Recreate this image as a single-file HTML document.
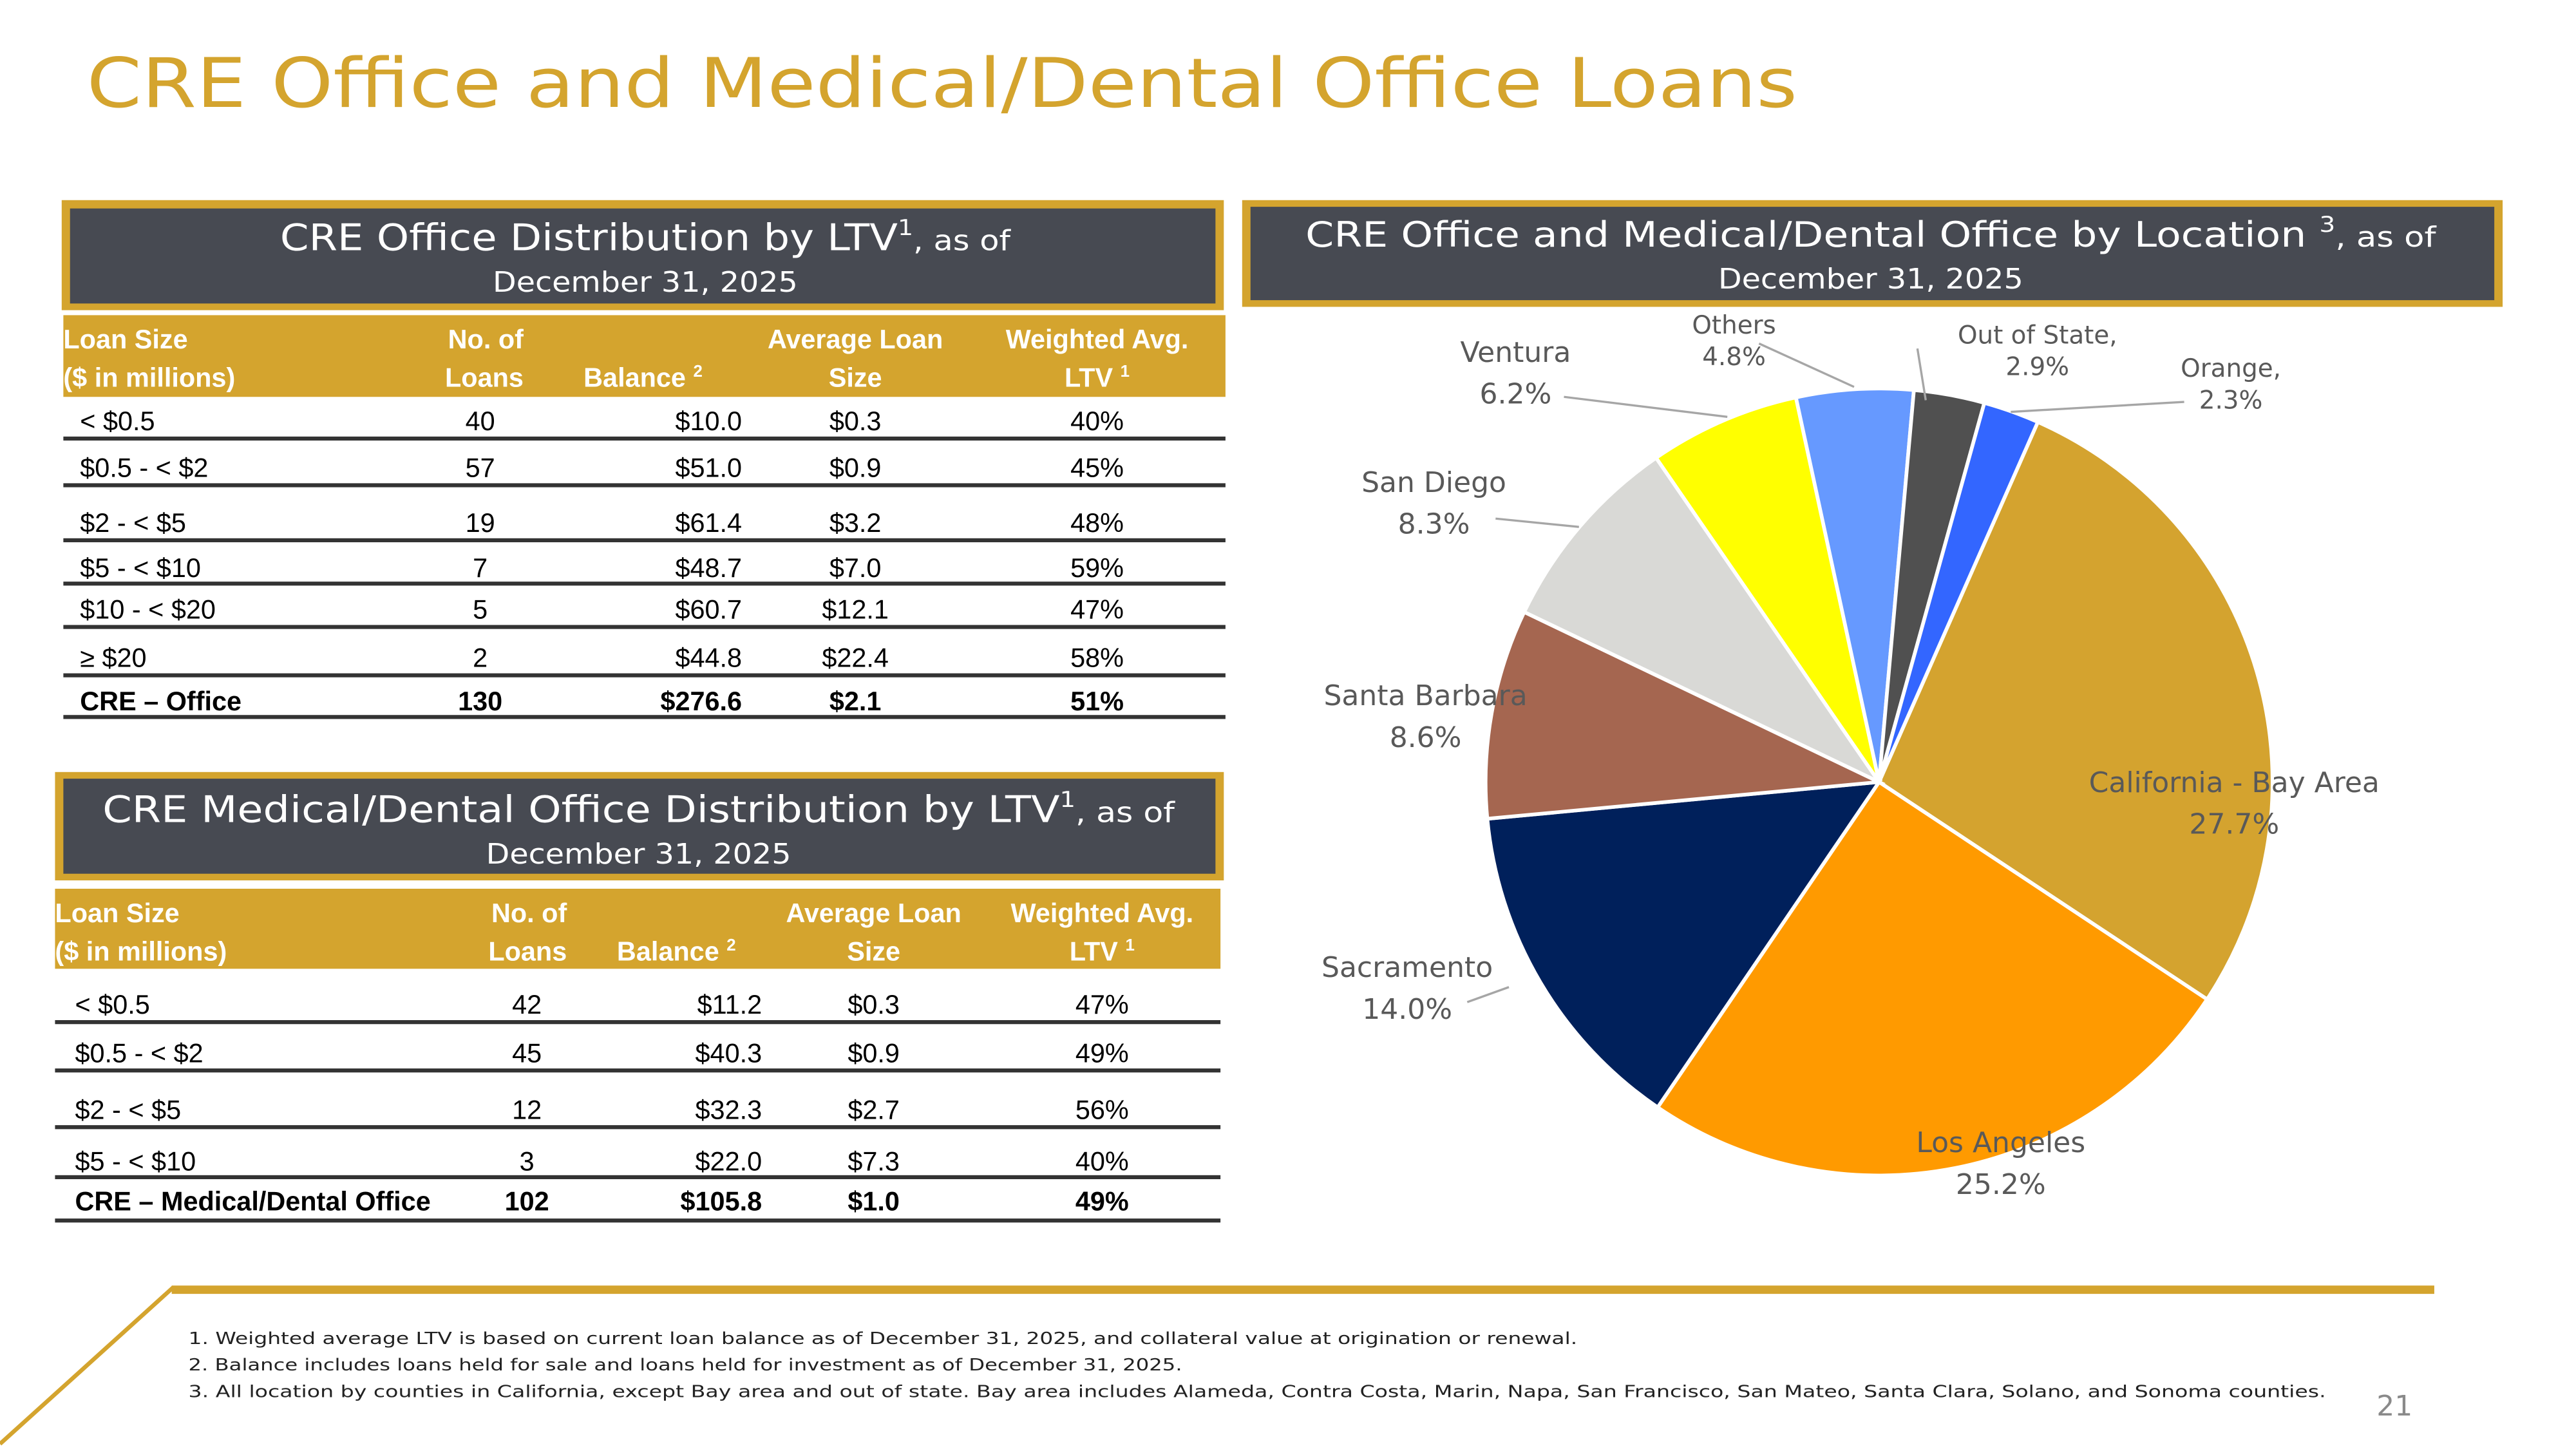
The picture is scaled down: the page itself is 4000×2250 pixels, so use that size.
<!DOCTYPE html>
<html><head><meta charset="utf-8"><style>
html,body{margin:0;padding:0;background:#fff;}
svg{display:block;}
.cg{font-family:"DejaVu Sans","Liberation Sans",sans-serif;}
.tb{font-family:"Liberation Sans Narrow","Liberation Sans",sans-serif;}
</style></head><body>
<svg id="slide" width="4000" height="2250" viewBox="0 0 1545 869" xmlns="http://www.w3.org/2000/svg">
<text class="cg" x="52" y="64" font-size="41" fill="#D4A42E" textLength="1026" lengthAdjust="spacingAndGlyphs">CRE Office and Medical/Dental Office Loans</text>

<!-- Box 1 -->
<g>
<rect x="37" y="120" width="697" height="66" fill="#D4A42E"/>
<rect x="42" y="125" width="687" height="57" fill="#474A52"/>
<text class="cg" x="387" y="150" font-size="22" fill="#fff" text-anchor="middle" textLength="438" lengthAdjust="spacingAndGlyphs">CRE Office Distribution by LTV<tspan font-size="13" dy="-9">1</tspan><tspan dy="9" font-size="17">, as of</tspan></text>
<text class="cg" x="387" y="175" font-size="17" fill="#fff" text-anchor="middle" textLength="183" lengthAdjust="spacingAndGlyphs">December 31, 2025</text>
</g>
<g id="t1"></g>

<!-- Box 2 -->
<g>
<rect x="33" y="463" width="701" height="65" fill="#D4A42E"/>
<rect x="38" y="467" width="691" height="57" fill="#474A52"/>
<text class="cg" x="383" y="493" font-size="22" fill="#fff" text-anchor="middle" textLength="643" lengthAdjust="spacingAndGlyphs">CRE Medical/Dental Office Distribution by LTV<tspan font-size="13" dy="-9">1</tspan><tspan dy="9" font-size="17">, as of</tspan></text>
<text class="cg" x="383" y="518" font-size="17" fill="#fff" text-anchor="middle" textLength="183" lengthAdjust="spacingAndGlyphs">December 31, 2025</text>
</g>
<g id="t2"></g>

<!-- Box 3 -->
<g>
<rect x="745" y="120" width="756" height="64" fill="#D4A42E"/>
<rect x="750" y="124" width="746" height="56" fill="#474A52"/>
<text class="cg" x="1122" y="148" font-size="21" fill="#fff" text-anchor="middle" textLength="678" lengthAdjust="spacingAndGlyphs">CRE Office and Medical/Dental Office by Location <tspan font-size="13" dy="-9">3</tspan><tspan dy="9" font-size="17">, as of</tspan></text>
<text class="cg" x="1122" y="173" font-size="17" fill="#fff" text-anchor="middle" textLength="183" lengthAdjust="spacingAndGlyphs">December 31, 2025</text>
</g>
<g id="pie"></g>
<g id="pielabels"></g>

<!-- Footer -->
<g>
<rect x="103" y="771" width="1357" height="5" fill="#D4A42E"/>
<line x1="104" y1="772" x2="0" y2="866" stroke="#D4A42E" stroke-width="2.5"/>
</g>
<g class="cg" font-size="10" fill="#222">
<text x="113" y="806" textLength="833" lengthAdjust="spacingAndGlyphs">1. Weighted average LTV is based on current loan balance as of December 31, 2025, and collateral value at origination or renewal.</text>
<text x="113" y="822" textLength="596" lengthAdjust="spacingAndGlyphs">2. Balance includes loans held for sale and loans held for investment as of December 31, 2025.</text>
<text x="113" y="838" textLength="1282" lengthAdjust="spacingAndGlyphs">3. All location by counties in California, except Bay area and out of state. Bay area includes Alameda, Contra Costa, Marin, Napa, San Francisco, San Mateo, Santa Clara, Solano, and Sonoma counties.</text>
</g>
<text class="cg" x="1447" y="849" font-size="17" fill="#8a8a8a" text-anchor="end">21</text>
</svg>
<script>
const NS="http://www.w3.org/2000/svg";
// Pie data
const pieCategories=["California - Bay Area","Los Angeles","Sacramento","Santa Barbara","San Diego","Ventura","Others","Out of State","Orange"];
const pieValues=[27.7,25.2,14.0,8.6,8.3,6.2,4.8,2.9,2.3];
const pieLabelText=["California - Bay Area","Los Angeles","Sacramento","Santa Barbara","San Diego","Ventura","Others","Out of State,","Orange,"];
const pieColors=["#D4A32F","#FF9A00","#00205B","#A56650","#D9D9D6","#FFFF00","#6699FF","#505050","#3366FF"];
// Table data
const t1Sizes=["< $0.5","$0.5 - < $2","$2 - < $5","$5 - < $10","$10 - < $20","≥ $20","CRE – Office"];
const t1Loans=["40","57","19","7","5","2","130"];
const t1Balance=["$10.0","$51.0","$61.4","$48.7","$60.7","$44.8","$276.6"];
const t1Avg=["$0.3","$0.9","$3.2","$7.0","$12.1","$22.4","$2.1"];
const t1Ltv=["40%","45%","48%","59%","47%","58%","51%"];
const t2Sizes=["< $0.5","$0.5 - < $2","$2 - < $5","$5 - < $10","CRE – Medical/Dental Office"];
const t2Loans=["42","45","12","3","102"];
const t2Balance=["$11.2","$40.3","$32.3","$22.0","$105.8"];
const t2Avg=["$0.3","$0.9","$2.7","$7.3","$1.0"];
const t2Ltv=["47%","49%","56%","40%","49%"];

function mk(tag,attrs,parent,txt){const e=document.createElementNS(NS,tag);for(const k in attrs)e.setAttribute(k,attrs[k]);if(txt!==undefined)e.textContent=txt;parent.appendChild(e);return e;}

function table(g,cfg,sizes,loans,bal,avg,ltv){
  const hdr=mk('rect',{x:cfg.x,y:cfg.hy,width:cfg.w,height:cfg.hh,fill:'#D4A42E'},g);
  
  
  const H=(x,y,t,a,sup)=>{const e=mk('text',{x:x,y:y,'class':'tb','font-size':16,'font-weight':'bold',fill:'#fff','text-anchor':a},g,t);
    if(sup){const s=mk('tspan',{'font-size':10,dy:-6},e,sup);}
    
    };
  const y1=cfg.hy+20,y2=cfg.hy+43;
  H(cfg.x,y1,'Loan Size','start');H(cfg.x,y2,'($ in millions)','start');
  H(cfg.cL,y1,'No. of','end');H(cfg.cL,y2,'Loans','end');
  H(cfg.cBs,y2,'Balance ','start','2');
  H(cfg.cA,y1,'Average Loan','middle');H(cfg.cA,y2,'Size','middle');
  H(cfg.cW,y1,'Weighted Avg.','middle');H(cfg.cW,y2,cfg.ltvHdr,'middle','1');
  sizes.forEach((s,i)=>{
    const y=cfg.rows[i], last=i===sizes.length-1, fw=last?'bold':'normal';
    const row=mk('g',{},g);
    
    
    const T=(x,t,a)=>mk('text',{x:x,y:y+6,'class':'tb','font-size':16,'font-weight':fw,fill:'#000','text-anchor':a},row,t);
    T(cfg.xs,s,'start');T(cfg.cLv,loans[i],'middle');T(cfg.cB,bal[i],'end');T(cfg.cA,avg[i],'middle');T(cfg.cW,ltv[i],'middle');
    mk('rect',{x:cfg.x,y:cfg.lines[i]-1.2,width:cfg.w,height:2.4,fill:'#333'},row);
  });
}
table(document.getElementById('t1'),{x:38,w:697,hy:189,hh:49,cL:314,cBs:350,cA:513,cW:658,ltvHdr:'LTV ',xs:48,cLv:288,cB:445,
  rows:[252,280,313,340,365,394,420],lines:[263,291,324,350,376,405,430]},t1Sizes,t1Loans,t1Balance,t1Avg,t1Ltv);
table(document.getElementById('t2'),{x:33,w:699,hy:533,hh:48,cL:340,cBs:370,cA:524,cW:661,ltvHdr:'LTV  ',xs:45,cLv:316,cB:457,
  rows:[602,631,665,696,720],lines:[613,642,676,706,732]},t2Sizes,t2Loans,t2Balance,t2Avg,t2Ltv);

// Pie
const cx=1127,cy=469,R=236,startDeg=23.8;
const pie=document.getElementById('pie');
const total=pieValues.reduce((a,b)=>a+b,0);
let acc=0;const mids=[];
function pt(deg,r){const a=(deg-90)*Math.PI/180;return [cx+r*Math.cos(a),cy+r*Math.sin(a)];}
pieValues.forEach((v,i)=>{
  const a0=startDeg+acc/total*360;acc+=v;const a1=startDeg+acc/total*360;
  const p0=pt(a0,R),p1=pt(a1,R);const large=(a1-a0)>180?1:0;
  const p=mk('path',{d:`M${cx},${cy} L${p0[0]},${p0[1]} A${R},${R} 0 ${large} 1 ${p1[0]},${p1[1]} Z`,fill:pieColors[i],stroke:'#fff','stroke-width':2.2},pie);
  
  
  mids.push((a0+a1)/2);
});
// labels: position [x,y] for name line, leader end offsets
const labelPos=[[1340,475],[1200,691],[844,586],[855,423],[860,295],[909,217],[1040,200],[1222,206],[1338,226]];
const leaders=[null,null,[[880,601],[905,592]],null,[[897,311],[947,316]],[[938,238],[1036,250]],[[1055,206],[1112,232]],[[1150,209],[1155,240]],[[1310,241],[1206,247]]];
const pl=document.getElementById('pielabels');
pieValues.forEach((v,i)=>{
  const g=mk('g',{},pl);
  
  
  if(leaders[i]){const L=leaders[i];mk('polyline',{points:L.map(p=>p.join(',')).join(' '),fill:'none',stroke:'#A6A6A6','stroke-width':1.3},g);}
  const fs=(i>=6)?15:17;
  const[x,y]=labelPos[i];
  mk('text',{x:x,y:y,'class':'cg','font-size':fs,fill:'#595959','text-anchor':'middle'},g,pieLabelText[i]);
  mk('text',{x:x,y:y+(i>=6?19:25),'class':'cg','font-size':fs,fill:'#595959','text-anchor':'middle'},g,v.toFixed(1)+'%');
});
</script>
</body></html>
